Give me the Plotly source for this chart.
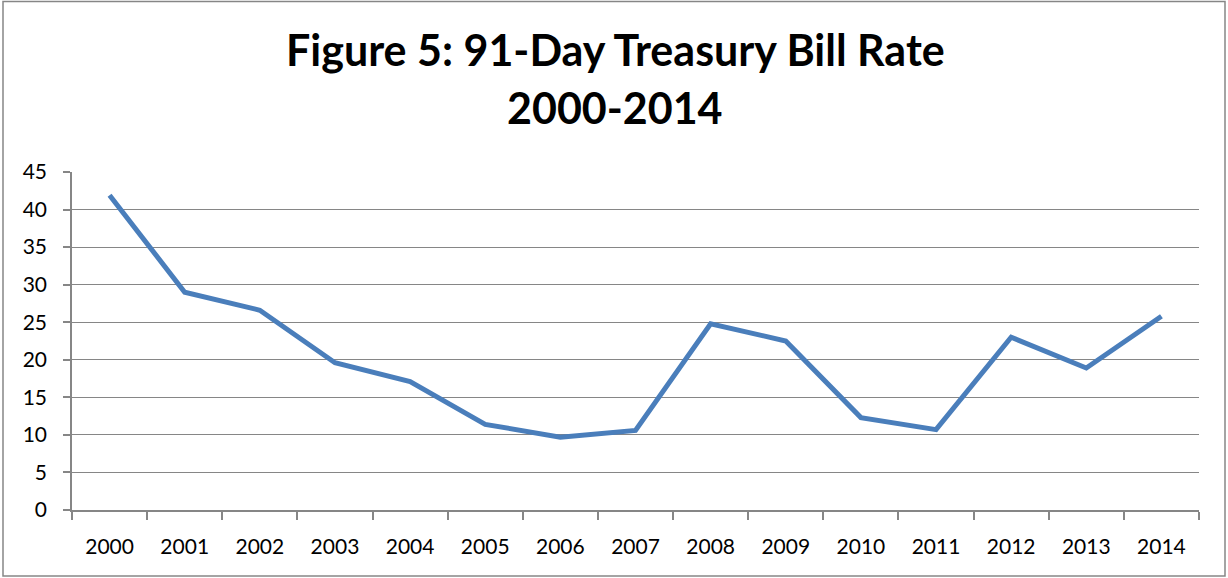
import plotly.graph_objects as go

years = ["2000", "2001", "2002", "2003", "2004", "2005", "2006", "2007",
         "2008", "2009", "2010", "2011", "2012", "2013", "2014"]
rates = [41.9, 29.0, 26.6, 19.6, 17.1, 11.4, 9.7, 10.6,
         24.8, 22.5, 12.3, 10.7, 23.0, 18.9, 25.8]
y_ticks = [0, 5, 10, 15, 20, 25, 30, 35, 40, 45]
title_lines = ["Figure 5: 91-Day Treasury Bill Rate", "2000-2014"]

W, H = 1228, 578
L, R, T, B = 72, 29, 172, 68
pw, ph = W - L - R, H - T - B

def px_x(p):
    return (p - L) / pw

def px_y(p):
    return (H - B - p) / ph

fig = go.Figure()
fig.add_trace(go.Scatter(
    x=years, y=rates, mode="lines",
    line=dict(color="#4a7ebb", width=5),
    showlegend=False, hoverinfo="x+y"))

gray = "#868686"
title_font = dict(family="Lato, Open Sans, sans-serif", size=43, color="black", weight="bold")
annotations = [
    dict(text=title_lines[0], xref="paper", yref="paper", x=px_x(615), y=px_y(50),
         xanchor="center", yanchor="middle", showarrow=False, font=title_font),
    dict(text=title_lines[1], xref="paper", yref="paper", x=px_x(615), y=px_y(107),
         xanchor="center", yanchor="middle", showarrow=False, font=title_font),
]

fig.update_layout(
    width=W, height=H,
    margin=dict(l=L, r=R, t=T, b=B),
    paper_bgcolor="white", plot_bgcolor="white",
    font=dict(family="Lato, Open Sans, sans-serif", size=21, color="black"),
    annotations=annotations,
    xaxis=dict(type="category", tickson="boundaries", ticks="outside", ticklen=8,
               tickcolor=gray, tickwidth=1.5, showline=True, linecolor=gray, linewidth=1.5,
               showgrid=False, ticklabelstandoff=17, range=[-0.5, 14.5]),
    yaxis=dict(range=[0, 45], tickvals=y_ticks, ticks="outside", ticklen=7,
               tickcolor=gray, tickwidth=1.5, showline=True, linecolor=gray, linewidth=1.5,
               showgrid=True, gridcolor=gray, gridwidth=1.3, zeroline=False,
               ticklabelstandoff=12),
    shapes=[dict(type="rect", xref="paper", yref="paper",
                 x0=px_x(3), x1=px_x(1225), y0=px_y(576), y1=px_y(1.5),
                 line=dict(color=gray, width=1.5), fillcolor="rgba(0,0,0,0)", layer="below")],
)
fig.write_html("out.html", config={"displayModeBar": False})

with open("out.html", "r", encoding="utf-8") as f:
    html = f.read()
html = html.replace("<body>", "<body style=\"margin:0;padding:0;overflow:hidden\">", 1)
with open("out.html", "w", encoding="utf-8") as f:
    f.write(html)
